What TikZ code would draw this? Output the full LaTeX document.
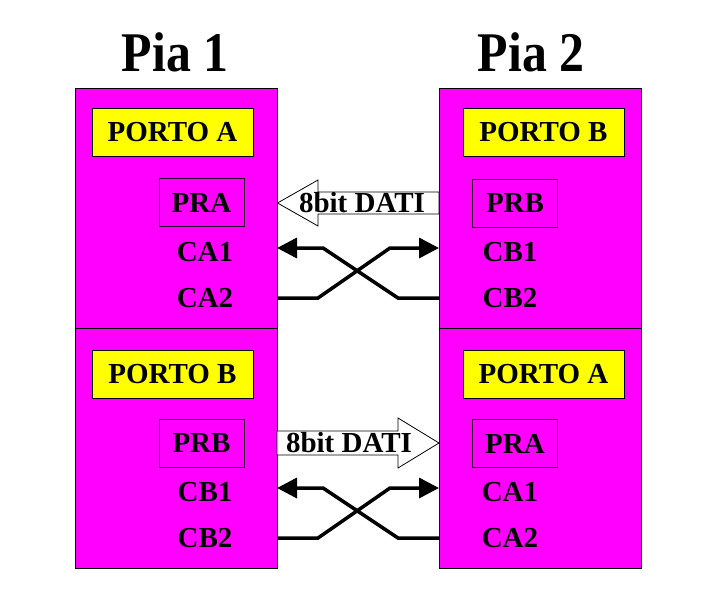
\documentclass[tikz,border=0pt]{standalone}
\usepackage{fontspec}
\setmainfont{Liberation Serif}
\newfontfamily\titlefont[FakeStretch=0.89]{Liberation Serif}
\usetikzlibrary{arrows.meta}
\definecolor{mag}{RGB}{255,0,255}
\definecolor{yel}{RGB}{255,255,0}
\begin{document}
\begin{tikzpicture}[x=1pt,y=-1pt,
  pia/.style={draw=black, fill=mag, minimum width=202pt, minimum height=240pt, inner sep=0pt, line width=0.8pt},
  porto/.style={draw=black, fill=yel, minimum width=161pt, minimum height=48pt, inner sep=0pt, line width=0.8pt, font=\fontsize{29}{34}\selectfont\bfseries},
  preg/.style={draw=black!80!mag, fill=mag, minimum width=85pt, minimum height=48pt, inner sep=0pt, line width=0.8pt, font=\fontsize{29}{34}\selectfont\bfseries},
  lab/.style={font=\fontsize{29}{34}\selectfont\bfseries, inner sep=0pt},
  title/.style={font=\titlefont\fontsize{56}{64}\selectfont\bfseries, inner sep=0pt},
  hollow/.style={draw=black, fill=white, line width=0.8pt, line join=miter},
  wire/.style={line width=3.5pt, line join=miter},
  tip/.style={-{Triangle[length=20pt,width=20pt]}}
]
\useasboundingbox (0,0) rectangle (718,589);
\fill[white] (0,0) rectangle (718,589);

\node[title] (t1) at (175,52) {Pia 1};
\node[title] (t2) at (531,52) {Pia 2};

\node[pia] (L1) at (176,208) {};
\node[pia] (L2) at (176,448.5) {};
\node[pia] (R1) at (540,208) {};
\node[pia] (R2) at (540,448.5) {};

\node[porto] (pa1) at (172.5,132) {PORTO A};
\node[porto] (pb2) at (543.5,132) {PORTO B};
\node[porto] (pb1) at (172.5,374) {PORTO B};
\node[porto] (pa2) at (543.5,374) {PORTO A};

\node[preg] (pra1) at (201.5,202.5) {PRA};
\node[preg] (prb2) at (515,203.5) {PRB};
\node[preg] (prb1) at (201.5,443) {PRB};
\node[preg] (pra2) at (515,443.5) {PRA};

\node[lab] (ca1l) at (205,252) {CA1};
\node[lab] (ca2l) at (205,298) {CA2};
\node[lab] (cb1r) at (510,252) {CB1};
\node[lab] (cb2r) at (510,298) {CB2};
\node[lab] (cb1l) at (205,492) {CB1};
\node[lab] (cb2l) at (205,538) {CB2};
\node[lab] (ca1r) at (510,492) {CA1};
\node[lab] (ca2r) at (510,538) {CA2};

% hollow data arrows
\draw[hollow] (439,192) -- (318,192) -- (318,180) -- (277.5,203) -- (318,226) -- (318,214) -- (439,214) -- cycle;
\node[lab] (d1) at (362,203) {8bit DATI};
\draw[hollow] (277,431) -- (398,431) -- (398,418) -- (439,443) -- (398,468) -- (398,455) -- (277,455) -- cycle;
\node[lab] (d2) at (349,443) {8bit DATI};

% control lines
\coordinate (a1) at (277,248);
\coordinate (a2) at (277,298);
\coordinate (b1) at (439,248);
\coordinate (b2) at (439,298);
\draw[wire,tip] (b2) -- (398,298) -- (323,248) -- (a1);
\draw[wire,tip] (a2) -- (318,298) -- (390,248) -- (b1);

\coordinate (c1) at (277,488);
\coordinate (c2) at (277,538);
\coordinate (e1) at (439,488);
\coordinate (e2) at (439,538);
\draw[wire,tip] (e2) -- (398,538) -- (323,488) -- (c1);
\draw[wire,tip] (c2) -- (318,538) -- (390,488) -- (e1);
\end{tikzpicture}
\end{document}
